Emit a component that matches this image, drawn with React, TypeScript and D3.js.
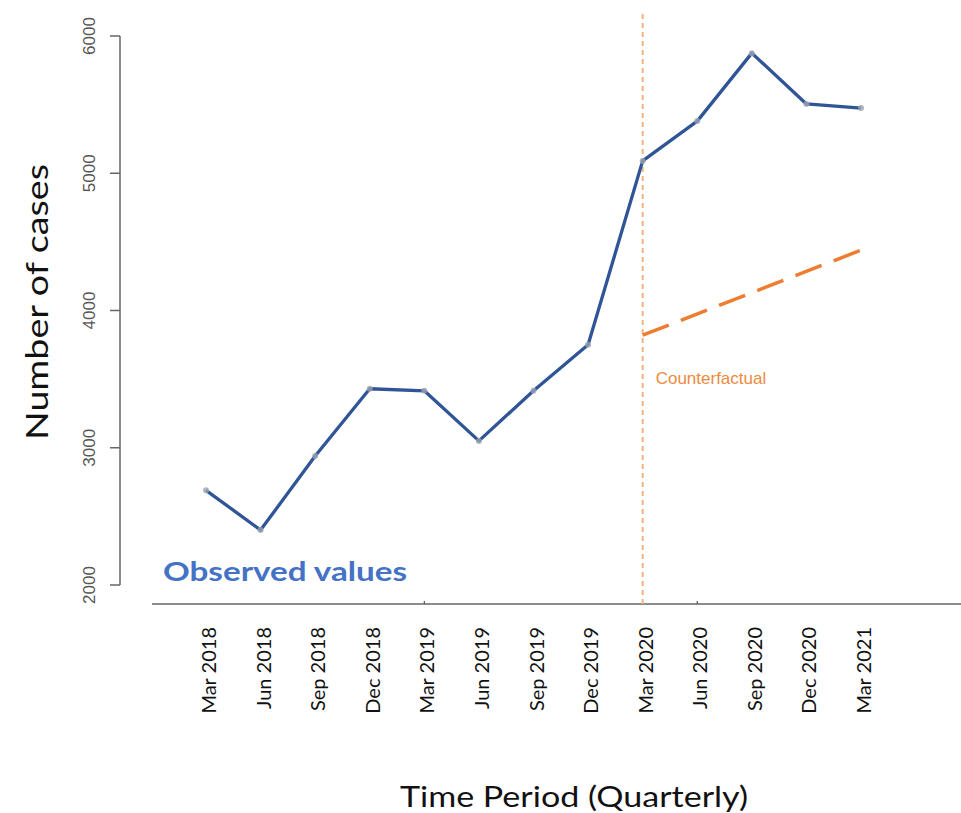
import * as d3 from "d3";

const quarters = [
  "Mar 2018", "Jun 2018", "Sep 2018", "Dec 2018",
  "Mar 2019", "Jun 2019", "Sep 2019", "Dec 2019",
  "Mar 2020", "Jun 2020", "Sep 2020", "Dec 2020", "Mar 2021",
];
const observed = [2690, 2400, 2940, 3430, 3415, 3050, 3415, 3750, 5090, 5380, 5875, 5505, 5475];
const counterfactualQuarters = ["Mar 2020", "Mar 2021"];
const counterfactual = [3820, 4440];
const interventionQuarter = "Mar 2020";
const axisMarkQuarters = ["Mar 2019", "Jun 2020"];
const yTicks = [2000, 3000, 4000, 5000, 6000];

const W = 961;
const H = 813;

export default function App() {
  const x = d3.scalePoint<string>().domain(quarters).range([206, 861]);
  const y = d3.scaleLinear().domain([2000, 6000]).range([585, 36]);

  const obsLine = d3
    .line<number>()
    .x((_, i) => x(quarters[i]) ?? 0)
    .y((d) => y(d))(observed);

  const cfLine = d3
    .line<number>()
    .x((_, i) => x(counterfactualQuarters[i]) ?? 0)
    .y((d) => y(d))(counterfactual);

  const axisY = 604;
  const xi = x(interventionQuarter) ?? 0;

  return (
    <svg width={W} height={H} style={{ display: "block", position: "absolute", left: 0, top: 0 }}>
      <rect width={W} height={H} fill="#fff" />

      {/* y axis */}
      <line x1={120} x2={120} y1={y(6000)} y2={y(2000)} stroke="#666" strokeWidth={1.5} />
      {yTicks.map((t) => (
        <g key={t} transform={`translate(120,${y(t)})`}>
          <line x1={-10} x2={0} stroke="#666" strokeWidth={1.5} />
          <text
            transform="translate(-31,0) rotate(-90)"
            textAnchor="middle"
            dy="0.35em"
            fontFamily="'Liberation Sans', Arial, sans-serif"
            fontSize={17}
            fill="#555"
          >
            {t}
          </text>
        </g>
      ))}

      {/* x axis */}
      <line x1={152} x2={W} y1={axisY} y2={axisY} stroke="#666" strokeWidth={1.5} />
      {axisMarkQuarters.map((q) => (
        <line key={q} x1={x(q)} x2={x(q)} y1={axisY - 3} y2={axisY} stroke="#555" strokeWidth={1.2} />
      ))}
      {quarters.map((q) => (
        <text
          key={q}
          transform={`translate(${(x(q) ?? 0) + 3},627) rotate(-90)`}
          textAnchor="end"
          dy="0.35em"
          fontFamily="Lato, 'Open Sans', sans-serif"
          fontSize={20}
          fill="#111"
        >
          {q}
        </text>
      ))}

      {/* intervention line */}
      <line
        x1={xi}
        x2={xi}
        y1={14}
        y2={axisY}
        stroke="#F4B183"
        strokeWidth={2}
        strokeDasharray="5 4"
      />

      {/* counterfactual */}
      <path d={cfLine ?? ""} fill="none" stroke="#ED7D31" strokeWidth={3.5} strokeDasharray="28 13" />
      <text
        x={xi + 13}
        y={378}
        dy="0.35em"
        fontFamily="'Liberation Sans', Arial, sans-serif"
        fontSize={17}
        fill="#ED8B3F"
      >
        Counterfactual
      </text>

      {/* observed */}
      <path d={obsLine ?? ""} fill="none" stroke="#2F5597" strokeWidth={3.3} strokeLinejoin="round" />
      {observed.map((v, i) => (
        <circle key={i} cx={x(quarters[i])} cy={y(v)} r={3} fill="#9aa3b0" opacity={0.8} />
      ))}
      <text
        x={163}
        y={581}
        fontFamily="Lato, 'Open Sans', sans-serif"
        fontWeight="bold"
        fontSize={26}
        fill="#4472C4"
        textLength={244}
        lengthAdjust="spacingAndGlyphs"
      >
        Observed values
      </text>

      {/* titles */}
      <text
        transform="translate(37,302) rotate(-90)"
        textAnchor="middle"
        dy="0.35em"
        fontFamily="Lato, 'Open Sans', sans-serif"
        fontSize={31}
        fill="#111"
        textLength={276}
        lengthAdjust="spacingAndGlyphs"
      >
        Number of cases
      </text>
      <text
        x={574}
        y={797}
        textAnchor="middle"
        dy="0.35em"
        fontFamily="Lato, 'Open Sans', sans-serif"
        fontSize={29}
        fill="#111"
        textLength={348}
        lengthAdjust="spacingAndGlyphs"
      >
        Time Period (Quarterly)
      </text>
    </svg>
  );
}
